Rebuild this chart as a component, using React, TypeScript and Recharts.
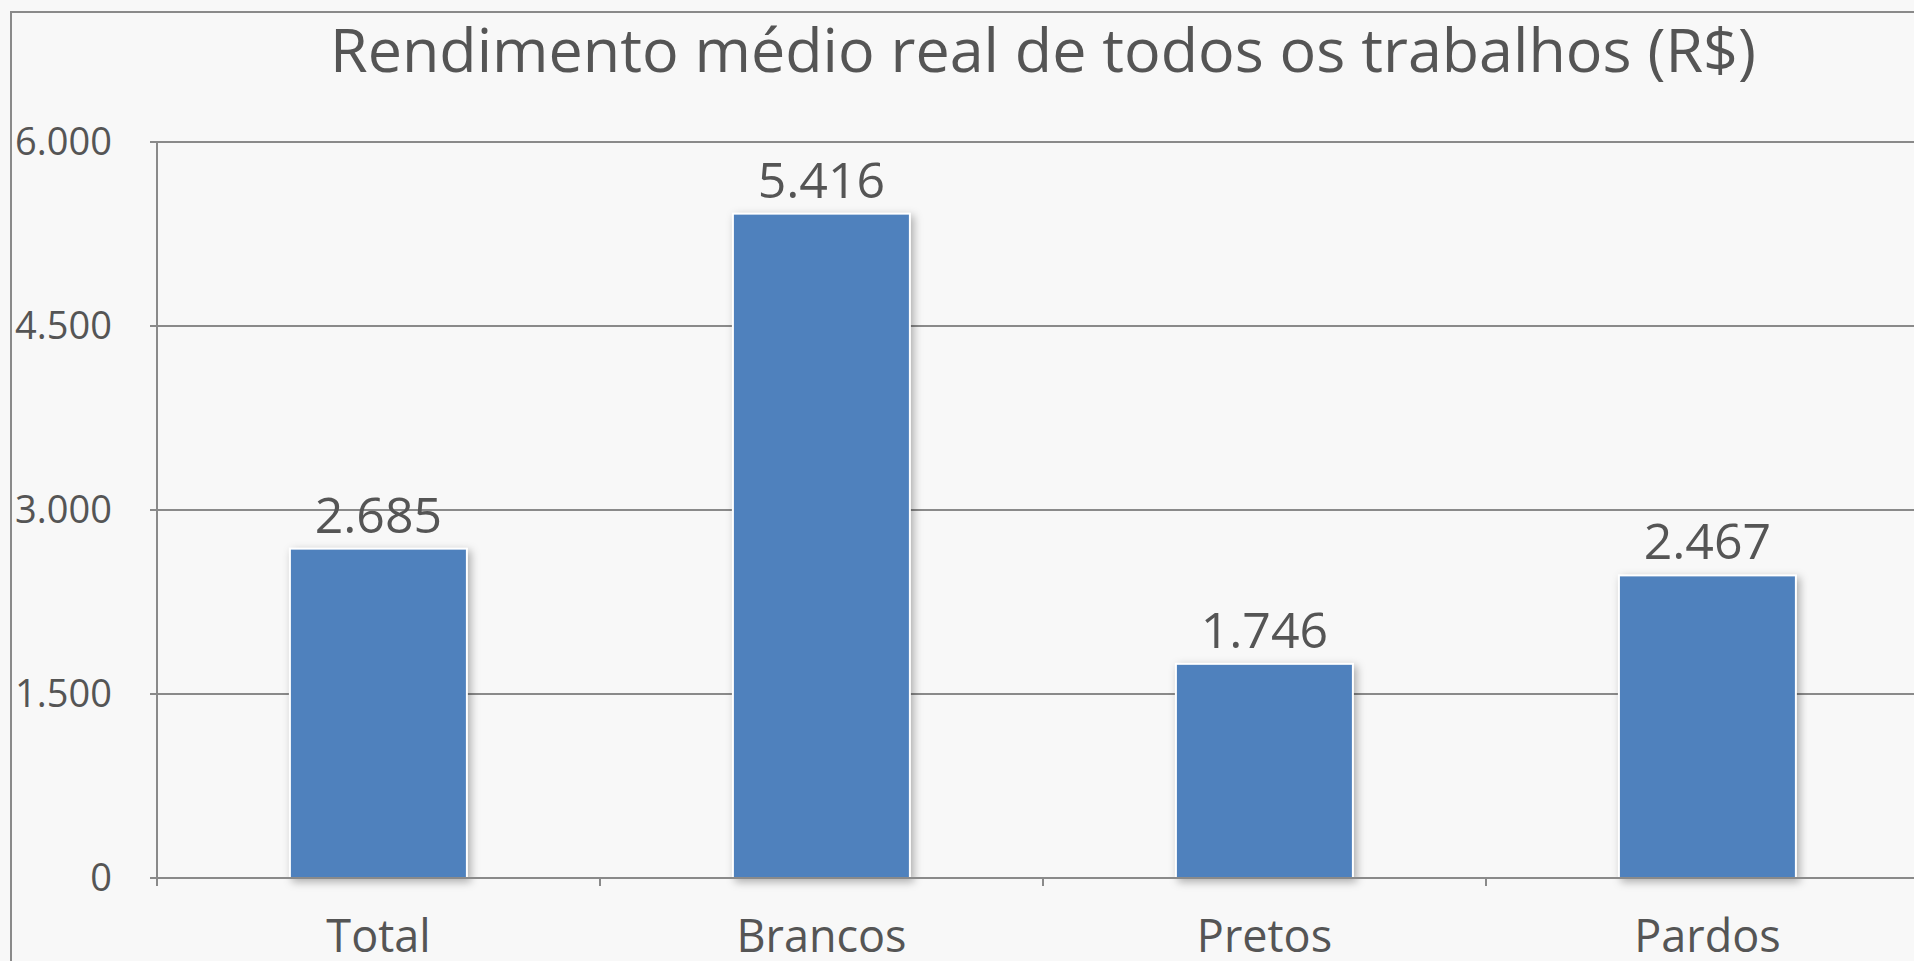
import { BarChart, Bar, XAxis, YAxis, CartesianGrid, LabelList } from "recharts";

// Rendimento médio real por cor/raça
const categories = ["Total", "Brancos", "Pretos", "Pardos"];
const values = [2685, 5416, 1746, 2467];
const yTicks = [0, 1500, 3000, 4500, 6000];

const data = categories.map((name, i) => ({ name, value: values[i] }));

const FONT = "'Open Sans', sans-serif";
const TEXT = "#555555";
const LINE = "#8a8a8a";
const BLUE = "#4F81BD";

const CHART_W = 1940;
const CHART_H = 961;

// 6000 -> "6.000"
const fmt = (v: number) => String(v).replace(/\B(?=(\d{3})+(?!\d))/g, ".");

function CategoryTick(props: any) {
  const { x, y, payload, width } = props;
  const half = payload.offset > 0 ? payload.offset : width / categories.length / 2;
  return (
    <g>
      <line x1={x - half} x2={x - half} y1={y} y2={y + 8} stroke={LINE} strokeWidth={2} />
      <text x={x} y={y + 74} textAnchor="middle" fill={TEXT} fontSize={45} fontFamily={FONT}>
        {payload.value}
      </text>
    </g>
  );
}

function ShadowBar(props: any) {
  const { x, y, width, height } = props;
  return (
    <rect
      x={x}
      y={y}
      width={width}
      height={height}
      fill={BLUE}
      stroke="#ffffff"
      strokeWidth={2}
      style={{ filter: "drop-shadow(3px 3px 4px rgba(0,0,0,0.3))" }}
    />
  );
}

export default function App() {
  return (
    <div
      style={{
        position: "absolute",
        left: 0,
        top: 0,
        width: 1914,
        height: 961,
        overflow: "hidden",
        background: "#f8f8f8",
        fontFamily: FONT,
      }}
    >
      <div
        style={{
          position: "absolute",
          left: 10,
          top: 11,
          width: 1920,
          height: 1000,
          borderLeft: `2px solid ${LINE}`,
          borderTop: `2px solid ${LINE}`,
        }}
      />
      <div
        style={{
          position: "absolute",
          left: 157,
          top: 13,
          width: 1772,
          textAlign: "center",
          fontSize: 61,
          color: TEXT,
          lineHeight: "72px",
          whiteSpace: "nowrap",
        }}
      >
        Rendimento médio real de todos os trabalhos (R$)
      </div>
      <div style={{ position: "absolute", left: 0, top: 0 }}>
        <BarChart
          width={CHART_W}
          height={CHART_H}
          data={data}
          margin={{ top: 142, right: 11, bottom: 23, left: 0 }}
          barCategoryGap="30%"
        >
          <CartesianGrid vertical={false} stroke={LINE} strokeWidth={2} />
          <XAxis
            dataKey="name"
            height={60}
            tickSize={0}
            tickMargin={0}
            tickLine={false}
            axisLine={{ stroke: LINE, strokeWidth: 2 }}
            tick={<CategoryTick />}
            interval={0}
          />
          <YAxis
            domain={[0, 6000]}
            ticks={yTicks}
            width={157}
            tickSize={7}
            tickMargin={38}
            tickFormatter={fmt}
            axisLine={{ stroke: LINE, strokeWidth: 2 }}
            tickLine={{ stroke: LINE, strokeWidth: 2 }}
            tick={{ fill: TEXT, fontSize: 38, fontFamily: FONT }}
          />
          <Bar dataKey="value" shape={<ShadowBar />} isAnimationActive={false}>
            <LabelList
              dataKey="value"
              position="top"
              offset={16}
              formatter={(v: any) => fmt(Number(v))}
              fill={TEXT}
              fontSize={50}
              fontFamily={FONT}
            />
          </Bar>
        </BarChart>
      </div>
    </div>
  );
}
